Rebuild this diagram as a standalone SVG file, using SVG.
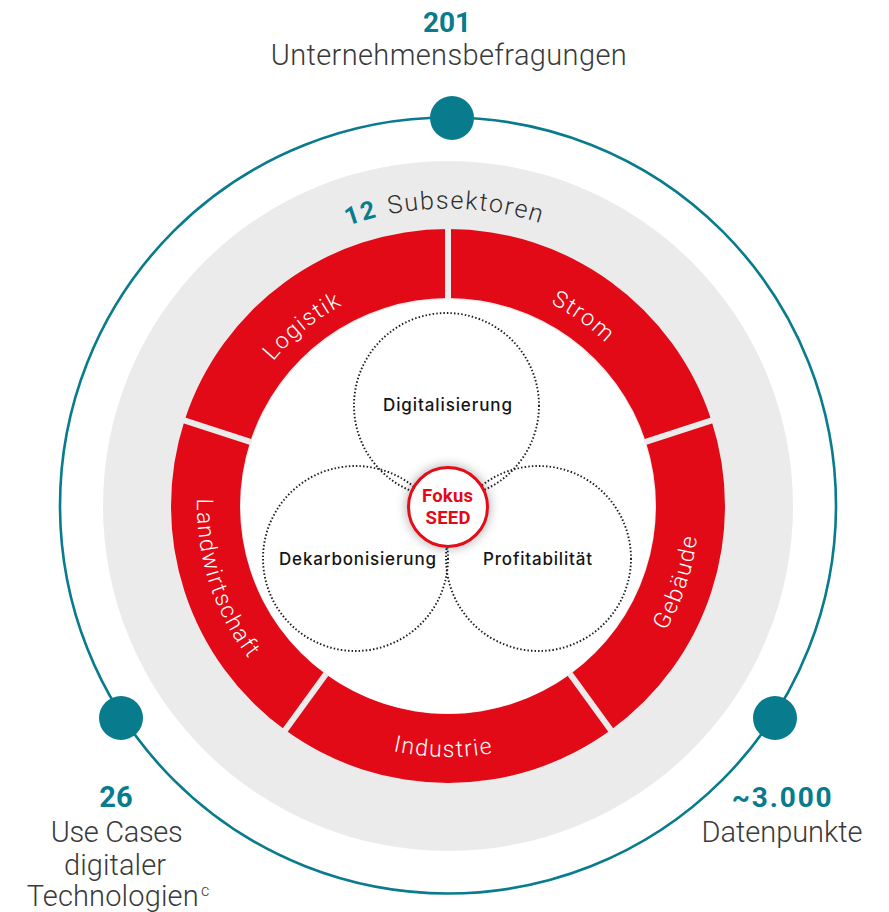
<svg xmlns="http://www.w3.org/2000/svg" width="889" height="912" viewBox="0 0 889 912">
<defs>
<style>
.teal{fill:#087b8d}
.num{font-family:Roboto,"Liberation Sans",sans-serif;font-weight:700;fill:#087b8d;text-anchor:middle}
.lbl{font-family:Roboto,"Liberation Sans",sans-serif;font-weight:300;fill:#3a3a3a;text-anchor:middle}
.seg{fill:#e30a18}
.seglbl{font-family:Roboto,"Liberation Sans",sans-serif;font-weight:300;font-size:23px;letter-spacing:1.5px;fill:#ffffff;text-anchor:middle}
.gap{stroke:#ebebeb;stroke-width:6;fill:none}
.dot{fill:none;stroke:#1e1e1e;stroke-width:1.9;stroke-dasharray:1.5 2.1}
.inner{font-family:Inter,Roboto,"Liberation Sans",sans-serif;font-weight:500;font-size:17px;fill:#151515;text-anchor:middle}
.fokus{font-family:Roboto,"Liberation Sans",sans-serif;font-weight:700;font-size:18.5px;fill:#e30a18;text-anchor:middle}
.sub{font-family:Roboto,"Liberation Sans",sans-serif;font-size:25px;letter-spacing:1.6px;text-anchor:middle}
</style>
<path id="topArc" d="M251.41,619.5 A227,227 0 1 1 644.59,619.5"/>
<path id="botArc" d="M230.63,380.5 A251,251 0 1 0 665.37,380.5"/>
<path id="subArc" d="M190.36,357.25 A297.5,297.5 0 0 1 705.64,357.25"/>
<filter id="shadow" x="-50%" y="-50%" width="200%" height="200%">
<feGaussianBlur in="SourceAlpha" stdDeviation="6"/>
<feComponentTransfer><feFuncA type="linear" slope="0.35"/></feComponentTransfer>
<feMerge><feMergeNode/><feMergeNode in="SourceGraphic"/></feMerge>
</filter>
</defs>
<rect width="889" height="912" fill="#ffffff"/>

<g id="outer-ring">
<circle cx="448" cy="505.5" r="388" fill="none" stroke="#087b8d" stroke-width="2.6"/>
</g>

<g id="stat-befragungen">
<circle class="teal" cx="452" cy="118" r="22"/>
<text class="num" x="447" y="31.5" font-size="28">201</text>
<text class="lbl" x="448.7" y="65" font-size="29" textLength="356" lengthAdjust="spacing">Unternehmensbefragungen</text>
</g>

<g id="stat-usecases">
<circle class="teal" cx="121" cy="718" r="22"/>
<text class="num" x="116" y="807" font-size="29">26</text>
<text class="lbl" x="116.7" y="842" font-size="29" textLength="132" lengthAdjust="spacing">Use Cases</text>
<text class="lbl" x="115" y="875" font-size="29" textLength="102" lengthAdjust="spacing">digitaler</text>
<text class="lbl" x="26.7" y="906" font-size="29" style="text-anchor:start" textLength="172" lengthAdjust="spacing">Technologien</text>
<text class="lbl" x="201" y="896" font-size="16" style="text-anchor:start">c</text>
</g>

<g id="stat-datenpunkte">
<circle class="teal" cx="775" cy="718" r="22"/>
<text class="num" x="781.7" y="807" font-size="28" textLength="100">~3.000</text>
<text class="lbl" x="782" y="842" font-size="29" textLength="161" lengthAdjust="spacing">Datenpunkte</text>
</g>

<g id="subsektoren">
<circle cx="448" cy="506" r="345" fill="#ebebeb"/>
<text class="sub" font-weight="700" fill="#087b8d"><textPath href="#subArc" startOffset="225.3">12</textPath></text>
<text class="sub" font-weight="300" fill="#2e2e2e"><textPath href="#subArc" startOffset="329.5">Subsektoren</textPath></text>
</g>

<g id="seg-strom">
<path class="seg" d="M448,229 A277,277 0 0 1 711.44,420.4 L645.82,441.72 A208,208 0 0 0 448,298 Z"/>
<text class="seglbl"><textPath href="#topArc" startOffset="616.1">Strom</textPath></text>
</g>
<g id="seg-gebaeude">
<path class="seg" d="M711.44,420.4 A277,277 0 0 1 610.82,730.1 L570.26,674.28 A208,208 0 0 0 645.82,441.72 Z"/>
<text class="seglbl"><textPath href="#botArc" startOffset="839.4">Gebäude</textPath></text>
</g>
<g id="seg-industrie">
<path class="seg" d="M610.82,730.1 A277,277 0 0 1 285.18,730.1 L325.74,674.28 A208,208 0 0 0 570.26,674.28 Z"/>
<text class="seglbl"><textPath href="#botArc" startOffset="520.9">Industrie</textPath></text>
</g>
<g id="seg-landwirtschaft">
<path class="seg" d="M285.18,730.1 A277,277 0 0 1 184.56,420.4 L250.18,441.72 A208,208 0 0 0 325.74,674.28 Z"/>
<text class="seglbl"><textPath href="#botArc" startOffset="210.3">Landwirtschaft</textPath></text>
</g>
<g id="seg-logistik">
<path class="seg" d="M184.56,420.4 A277,277 0 0 1 448,229 L448,298 A208,208 0 0 0 250.18,441.72 Z"/>
<text class="seglbl"><textPath href="#topArc" startOffset="320.9">Logistik</textPath></text>
</g>

<g id="gaps">
<circle cx="448" cy="506.5" r="207" fill="#ffffff"/>
<line class="gap" x1="448" y1="299" x2="448" y2="227"/>
<line class="gap" x1="644.87" y1="442.03" x2="713.35" y2="419.78"/>
<line class="gap" x1="569.67" y1="673.47" x2="612" y2="731.72"/>
<line class="gap" x1="326.33" y1="673.47" x2="284" y2="731.72"/>
<line class="gap" x1="251.13" y1="442.03" x2="182.65" y2="419.78"/>
</g>

<g id="digitalisierung">
<circle class="dot" cx="446.5" cy="405.5" r="92.5"/>
<text class="inner" x="447.5" y="411" textLength="129" lengthAdjust="spacing">Digitalisierung</text>
</g>
<g id="dekarbonisierung">
<circle class="dot" cx="355.5" cy="558.5" r="92.5"/>
<text class="inner" x="357.5" y="565" textLength="157" lengthAdjust="spacing">Dekarbonisierung</text>
</g>
<g id="profitabilitaet">
<circle class="dot" cx="538.5" cy="558.5" r="92.5"/>
<text class="inner" x="537.5" y="565" textLength="109" lengthAdjust="spacing">Profitabilität</text>
</g>

<g id="fokus-seed">
<circle cx="448" cy="507" r="39.5" fill="#ffffff" stroke="#e30a18" stroke-width="3" filter="url(#shadow)"/>
<text class="fokus" x="447.5" y="502" textLength="51">Fokus</text>
<text class="fokus" x="448" y="524" textLength="45">SEED</text>
</g>
</svg>
